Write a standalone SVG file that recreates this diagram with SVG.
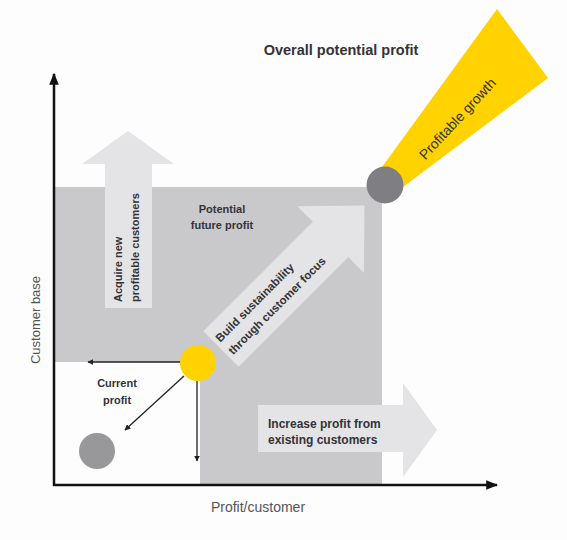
<svg xmlns="http://www.w3.org/2000/svg" width="567" height="540" viewBox="0 0 567 540">
  <defs>
    <style>
      .t { font-family: "Liberation Sans", Arial, sans-serif; fill: #333338; }
      .b { font-weight: bold; }
      .thin { stroke: #222; stroke-width: 1.3; fill: none; }
      .axis { stroke: #111; stroke-width: 2.5; fill: none; }
      .light { fill: #e4e4e6; }
    </style>
    <marker id="ah" viewBox="0 0 10 10" refX="9" refY="5" markerWidth="6" markerHeight="6" orient="auto" markerUnits="userSpaceOnUse">
      <path d="M0,0 L10,5 L0,10 Z" fill="#222"/>
    </marker>
    <marker id="axh" viewBox="0 0 10 10" refX="9" refY="5" markerWidth="12" markerHeight="12" orient="auto" markerUnits="userSpaceOnUse">
      <path d="M0,1 L10,5 L0,9 Z" fill="#111"/>
    </marker>
  </defs>
  <rect width="567" height="540" fill="#fdfdfd"/>

  <g id="potential-area">
    <path d="M54,187 H382 V485 H200 V362 H54 Z" fill="#c9c9cb"/>
  </g>

  <g id="acquire-arrow">
    <path class="light" d="M105,308 V164 H82 L128,131 L174,164 H152 V308 Z"/>
    <text class="t b" font-size="11" transform="translate(122,302) rotate(-90)">Acquire new</text>
    <text class="t b" font-size="11" transform="translate(139,302) rotate(-90)">profitable customers</text>
  </g>

  <g id="increase-arrow">
    <path class="light" d="M258,405 H403 V383 L437,430 L403,477 V452 H258 Z"/>
    <text class="t b" font-size="12" x="268" y="428">Increase profit from</text>
    <text class="t b" font-size="12" x="268" y="444">existing customers</text>
  </g>

  <g id="sustainability-arrow" transform="translate(221,349) rotate(-45)">
    <path class="light" d="M0,-25 H155 V-47 L203,0 L155,47 V25 H0 Z"/>
    <text class="t b" font-size="11.5" x="4" y="-5">Build sustainability</text>
    <text class="t b" font-size="11.5" x="4" y="13">through customer focus</text>
  </g>

  <g id="potential-label">
    <text class="t b" font-size="11" text-anchor="middle" x="222" y="213">Potential</text>
    <text class="t b" font-size="11" text-anchor="middle" x="222" y="229">future profit</text>
  </g>

  <g id="profitable-growth">
    <polygon points="382,167 497,9 548,78 403,187" fill="#ffd200"/>
    <text class="t" font-size="14" text-anchor="middle" transform="translate(461,122) rotate(-47)">Profitable growth</text>
  </g>

  <g id="overall-circle">
    <circle cx="385" cy="185" r="18.5" fill="#7f7f83"/>
  </g>

  <g id="current-circle">
    <circle cx="198" cy="363" r="18" fill="#ffd200"/>
  </g>

  <g id="origin-circle">
    <circle cx="97" cy="451" r="18" fill="#98989b"/>
  </g>

  <g id="connectors">
    <line class="thin" x1="180" y1="362" x2="88" y2="362" marker-end="url(#ah)"/>
    <line class="thin" x1="197" y1="381" x2="197" y2="461" marker-end="url(#ah)"/>
    <line class="thin" x1="184" y1="376" x2="125" y2="430" marker-end="url(#ah)"/>
    <line class="axis" x1="54" y1="486" x2="54" y2="74" marker-end="url(#axh)"/>
    <line class="axis" x1="53" y1="485" x2="497" y2="485" marker-end="url(#axh)"/>
  </g>

  <g id="current-label">
    <text class="t b" font-size="11" text-anchor="middle" x="117" y="387">Current</text>
    <text class="t b" font-size="11" text-anchor="middle" x="117" y="404">profit</text>
  </g>

  <g id="labels">
    <text class="t b" font-size="14.5" text-anchor="middle" x="341" y="55">Overall potential profit</text>
    <text class="t" font-size="13" text-anchor="middle" transform="translate(40,320) rotate(-90)" style="fill:#555">Customer base</text>
    <text class="t" font-size="14" text-anchor="middle" x="258" y="512" style="fill:#555">Profit/customer</text>
  </g>
</svg>
